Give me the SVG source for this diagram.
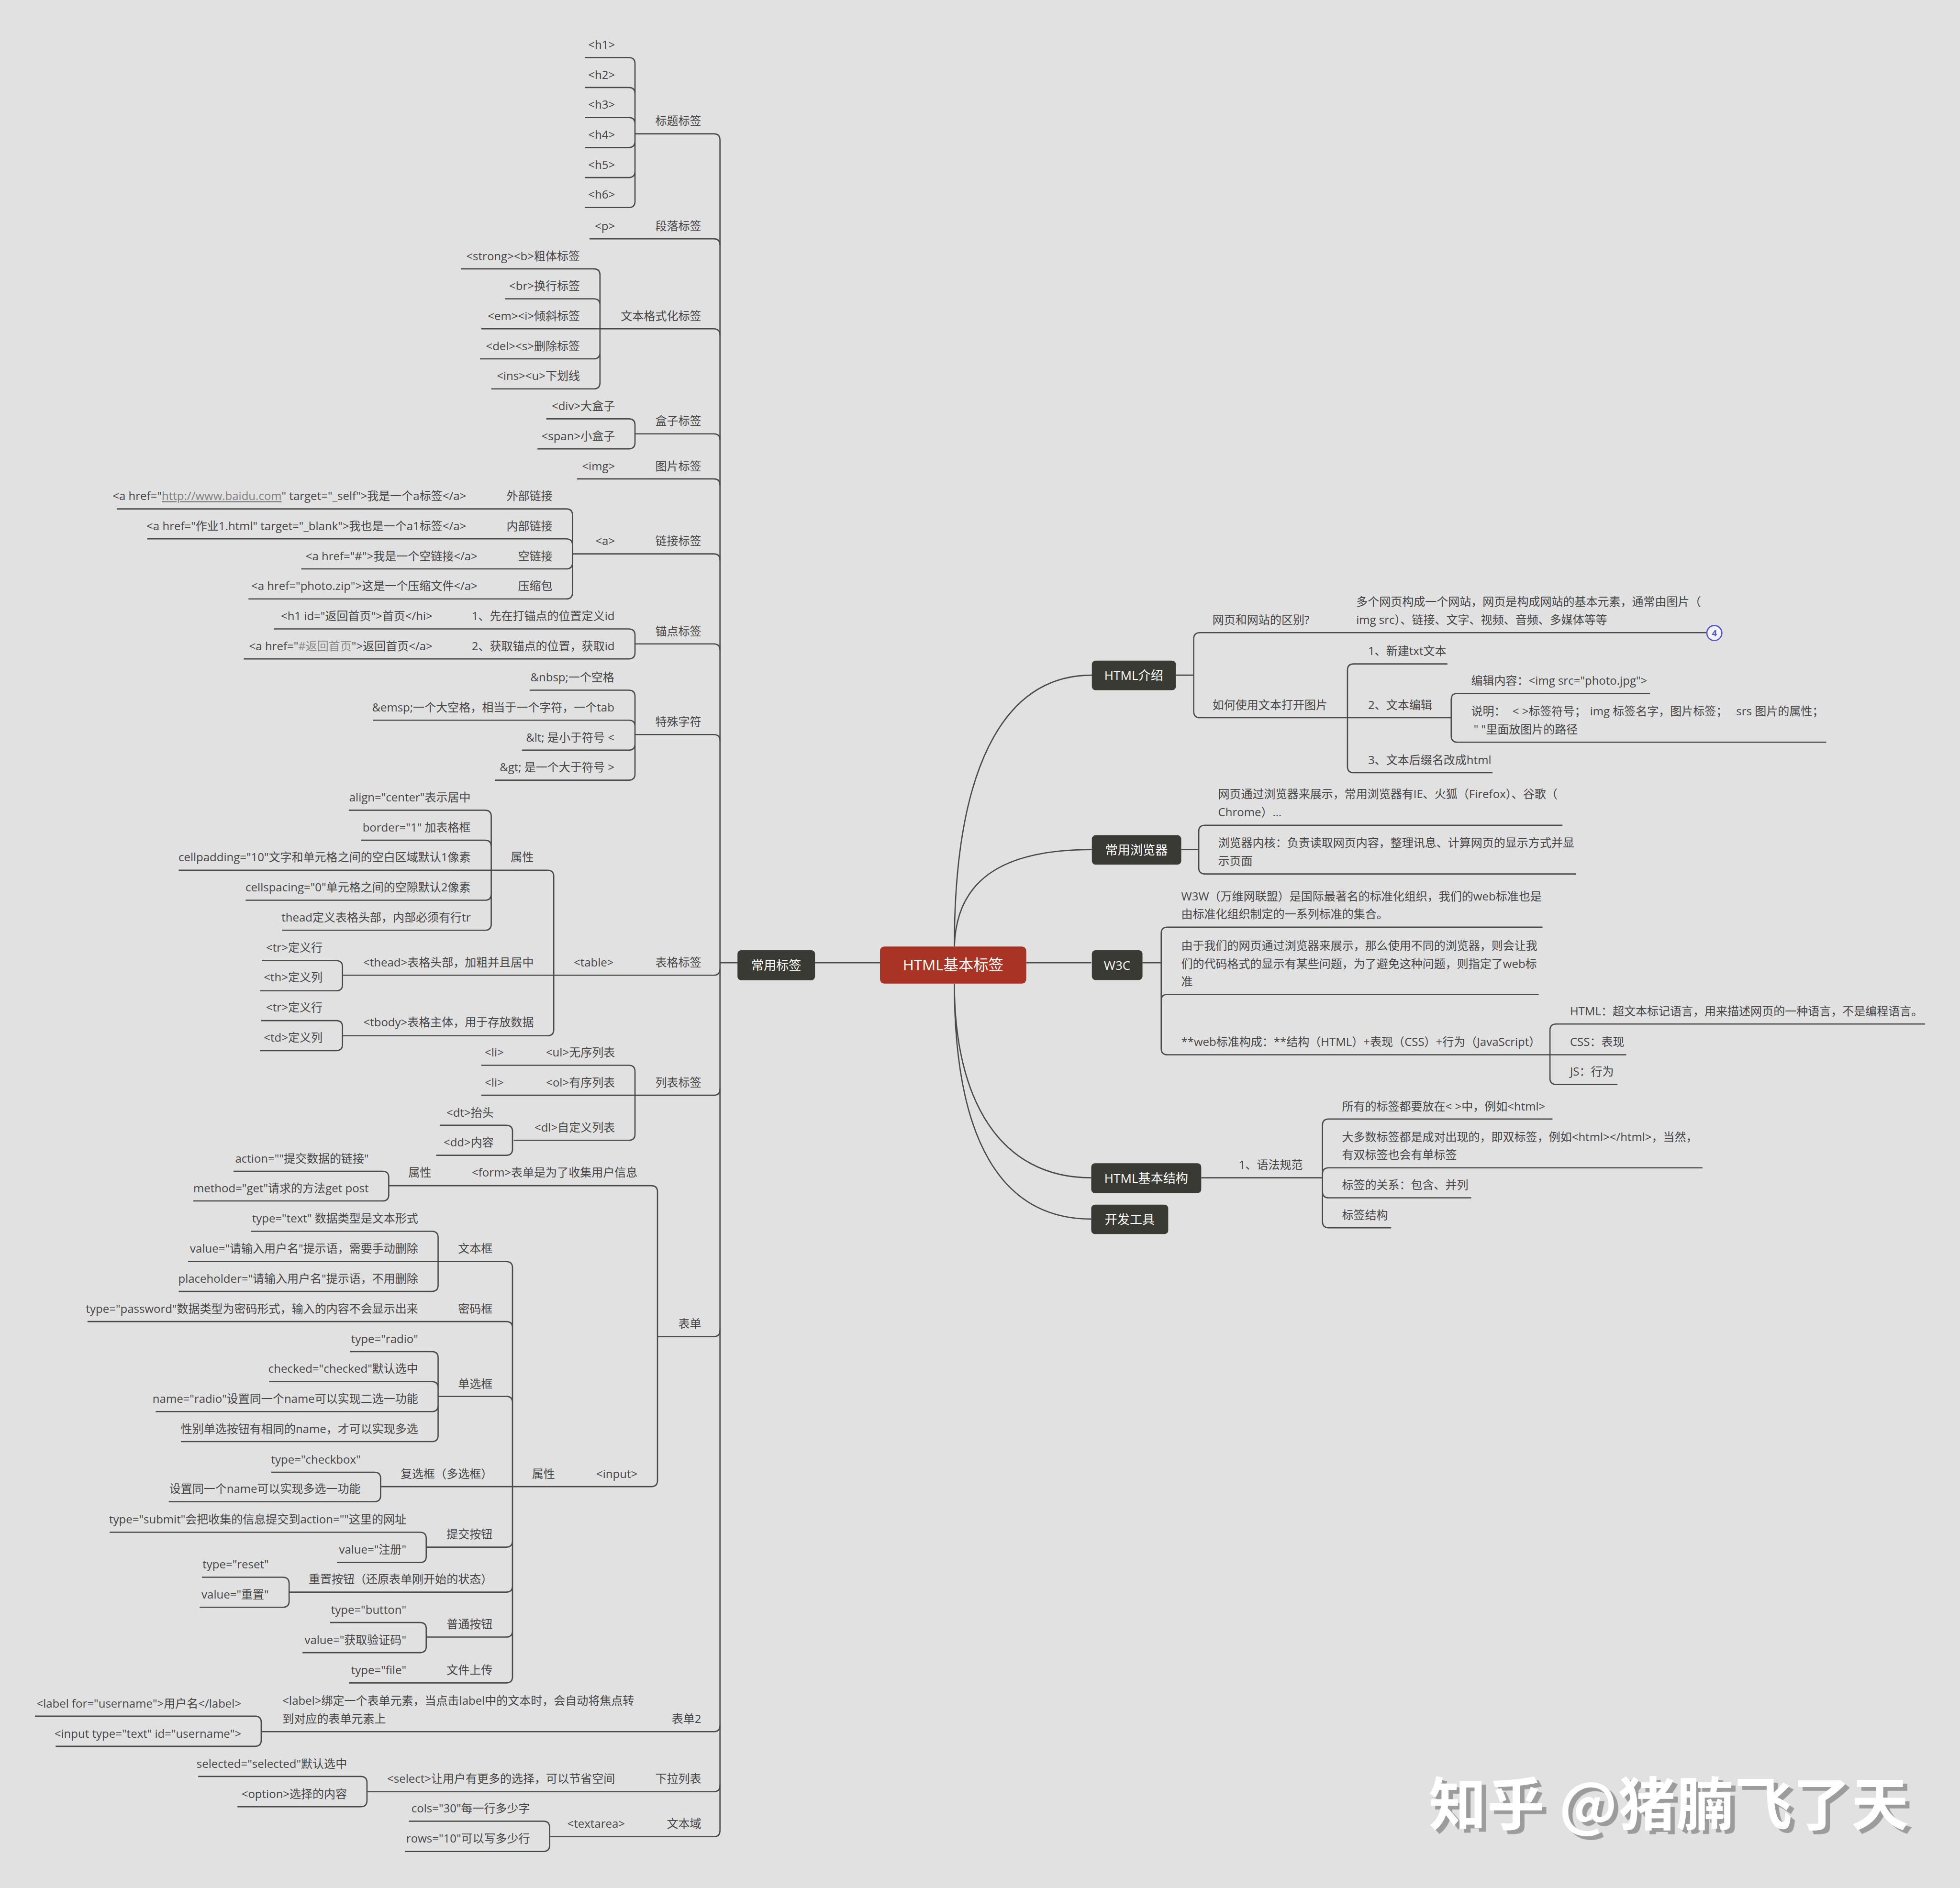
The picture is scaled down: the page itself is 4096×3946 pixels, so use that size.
<svg xmlns="http://www.w3.org/2000/svg" width="4096" height="3946" viewBox="0 0 4096 3946">
<style>
.ln{fill:none;stroke:#4a4a4d;stroke-width:1}
.t{font-family:"Open Sans","Noto Sans CJK SC",sans-serif;font-size:9.2px;fill:#464646}
.e{text-anchor:end}
.lk{fill:#808080;text-decoration:underline}
.lk2{fill:#8a8a8a}
.nb{fill:#3a3a35}
.nt{font-family:"Open Sans","Noto Sans CJK SC",sans-serif;font-size:10px;fill:#ffffff;text-anchor:middle}
.wm{font-family:"Noto Sans CJK SC",sans-serif;font-weight:700;font-size:46px}
</style>
<defs>
<filter id="wmShadow" x="-5%" y="-20%" width="115%" height="150%">
<feDropShadow dx="3.5" dy="3" stdDeviation="0" flood-color="#9c9c9c" flood-opacity="1"/>
</filter>
</defs>
<rect x="0" y="0" width="4096" height="3946" fill="#e1e1e1"/>
<g transform="scale(2.6122,2.6132)">
<g id="connectors">
<path class="ln" d="M576,112 V1464 M576,770 H590 M652,770 H704 M821,770 H873"/>
<path class="ln" d="M508,107 H571 Q576,107 576,112 M471.6,191 H571 Q576,191 576,196 M385,263 H571 Q576,263 576,268 M508,347 H571 Q576,347 576,352 M461.6,383 H571 Q576,383 576,388 M458,443 H571 Q576,443 576,448 M508,515 H571 Q576,515 576,520 M508,587.5 H571 Q576,587.5 576,592.5 M274,780 H571 Q576,780 576,775 M385,876 H571 Q576,876 576,871 M526,1069 H571 Q576,1069 576,1064 M209,1385 H571 Q576,1385 576,1380 M293.6,1433 H571 Q576,1433 576,1428 M439.7,1469 H571 Q576,1469 576,1464"/>
<path class="ln" d="M468,46 H503 Q508,46 508,51 M468,70 H503 Q508,70 508,75 M468,94 H503 Q508,94 508,99 M468,118 H503 Q508,118 508,113 M468,142 H503 Q508,142 508,137 M468,166 H503 Q508,166 508,161 M508,51 V161"/>
<path class="ln" d="M368.7,215 H475 Q480,215 480,220 M404,239 H475 Q480,239 480,244 M384,287 H475 Q480,287 480,282 M393,311 H475 Q480,311 480,306 M480,220 V306"/>
<path class="ln" d="M437,335 H503 Q508,335 508,340 M430,359 H503 Q508,359 508,354 M508,340 V354"/>
<path class="ln" d="M93.5,407 H453 Q458,407 458,412 M117.8,431 H453 Q458,431 458,436 M241,455 H453 Q458,455 458,450 M198.8,479 H453 Q458,479 458,474 M458,412 V474"/>
<path class="ln" d="M219,503 H503 Q508,503 508,508 M195,527 H503 Q508,527 508,522 M508,508 V522"/>
<path class="ln" d="M423.7,552 H503 Q508,552 508,557 M298.4,576 H503 Q508,576 508,581 M417.5,600 H503 Q508,600 508,595 M396,624 H503 Q508,624 508,619 M508,557 V619"/>
<path class="ln" d="M143,696 H438 Q443,696 443,701 M274,828.4 H438 Q443,828.4 443,823.4 M443,701 V823.4"/>
<path class="ln" d="M279,648 H388 Q393,648 393,653 M289,672 H388 Q393,672 393,677 M196.5,720 H388 Q393,720 393,715 M225.8,744 H388 Q393,744 393,739 M393,653 V739"/>
<path class="ln" d="M209.4,768.3 H269 Q274,768.3 274,773.3 M208,792.4 H269 Q274,792.4 274,787.4 M274,773.3 V787.4 M208.9,816.3 H269 Q274,816.3 274,821.3 M208,840.3 H269 Q274,840.3 274,835.3 M274,821.3 V835.3"/>
<path class="ln" d="M385,852 H503 Q508,852 508,857 M411,912 H503 Q508,912 508,907 M508,857 V907 M352,900 H405 Q410,900 410,905 M349,924 H405 Q410,924 410,919 M410,905 V919"/>
<path class="ln" d="M311,948.3 H521 Q526,948.3 526,953.3 M304.5,1189 H521 Q526,1189 526,1184 M526,953.3 V1184 M186.8,936.8 H306 Q311,936.8 311,941.8 M154.7,960.5 H306 Q311,960.5 311,955.5 M311,941.8 V955.5"/>
<path class="ln" d="M150.4,1009 H405 Q410,1009 410,1014 M70,1057 H405 Q410,1057 410,1062 M350.5,1116.8 H405 Q410,1116.8 410,1121.8 M341,1237.4 H405 Q410,1237.4 410,1232.4 M231.3,1273.4 H405 Q410,1273.4 410,1268.4 M341,1309.3 H405 Q410,1309.3 410,1304.3 M279.2,1346 H405 Q410,1346 410,1341 M410,1014 V1341"/>
<path class="ln" d="M200.8,984.8 H345.5 Q350.5,984.8 350.5,989.8 M143,1032.9 H345.5 Q350.5,1032.9 350.5,1027.9 M350.5,989.8 V1027.9"/>
<path class="ln" d="M280,1081 H345.5 Q350.5,1081 350.5,1086 M215.3,1105 H345.5 Q350.5,1105 350.5,1110 M124.5,1129 H345.5 Q350.5,1129 350.5,1124 M144.7,1153 H345.5 Q350.5,1153 350.5,1148 M350.5,1086 V1148"/>
<path class="ln" d="M217,1177.5 H299.5 Q304.5,1177.5 304.5,1182.5 M135,1201 H299.5 Q304.5,1201 304.5,1196 M304.5,1182.5 V1196"/>
<path class="ln" d="M87.7,1225.5 H336 Q341,1225.5 341,1230.5 M269.5,1249.7 H336 Q341,1249.7 341,1244.7 M341,1230.5 V1244.7 M161.5,1261.5 H226.3 Q231.3,1261.5 231.3,1266.5 M159.7,1285.5 H226.3 Q231.3,1285.5 231.3,1280.5 M231.3,1266.5 V1280.5 M264,1297.7 H336 Q341,1297.7 341,1302.7 M242,1321.8 H336 Q341,1321.8 341,1316.8 M341,1302.7 V1316.8"/>
<path class="ln" d="M28,1372.6 H204 Q209,1372.6 209,1377.6 M44.5,1396.7 H204 Q209,1396.7 209,1391.7 M209,1377.6 V1391.7 M158.6,1420.8 H288.6 Q293.6,1420.8 293.6,1425.8 M190,1445 H288.6 Q293.6,1445 293.6,1440 M293.6,1425.8 V1440 M327,1456.6 H434.7 Q439.7,1456.6 439.7,1461.6 M324.2,1480.8 H434.7 Q439.7,1480.8 439.7,1475.8 M439.7,1461.6 V1475.8"/>
<path class="ln" d="M763.5,757 C763.5,620 800,540 873.5,540 M763.5,757 C765,705 800,679.5 873.5,679.5 M763.5,786.7 C763.5,880 800,942 873,942 M763.5,786.7 C763.5,910 800,975 873,975"/>
<path class="ln" d="M940.7,540 H955 M955,511 V569 M955,511 Q955,506 960,506 H1365.5 M955,569 Q955,574 960,574 H1161 M1078,536 V613 M1078,536 Q1078,531 1083,531 H1158 M1078,613 Q1078,618 1083,618 H1194 M1161,559.6 V588.6 M1161,559.6 Q1161,554.6 1166,554.6 H1320 M1161,588.6 Q1161,593.6 1166,593.6 H1461"/>
<path class="ln" d="M945,679.5 H959 M959,665 V694 M959,665 Q959,660 964,660 H1250 M959,694 Q959,699 964,699 H1261"/>
<path class="ln" d="M914,770 H929 M929,746.5 V838.6 M929,746.5 Q929,741.5 934,741.5 H1234 M929,800.3 Q929,795.3 934,795.3 H1231 M929,838.6 Q929,843.6 934,843.6 H1301 M1240,824 V862.4 M1240,824 Q1240,819 1245,819 H1540 M1240,862.4 Q1240,867.4 1245,867.4 H1294"/>
<path class="ln" d="M961,942 H1058 M1058,900 V977 M1058,900 Q1058,895 1063,895 H1242 M1058,939 Q1058,934 1063,934 H1362 M1058,953 Q1058,958 1063,958 H1177 M1058,977 Q1058,982 1063,982 H1113"/>
</g>
<g id="root"><rect x="704" y="757" width="117" height="29.7" rx="3.5" fill="#a93426"/><text class="nt" x="762.5" y="776.2" style="font-size:12px">HTML基本标签</text></g>
<g id="b-common"><rect class="nb" x="590" y="760" width="62" height="24" rx="3"/><text class="nt" x="621" y="775.6">常用标签</text></g>
<g id="b-intro"><rect class="nb" x="873.5" y="528.4" width="67.2" height="23.6" rx="3"/><text class="nt" x="907" y="543.8">HTML介绍</text></g>
<g id="b-browser"><rect class="nb" x="873.5" y="668" width="71.5" height="23.5" rx="3"/><text class="nt" x="909.2" y="683.3">常用浏览器</text></g>
<g id="b-w3c"><rect class="nb" x="873.5" y="760" width="40.5" height="23.8" rx="3"/><text class="nt" x="893.7" y="775.5">W3C</text></g>
<g id="b-struct"><rect class="nb" x="873" y="930.4" width="88" height="23.9" rx="3"/><text class="nt" x="917" y="946">HTML基本结构</text></g>
<g id="b-tools"><rect class="nb" x="873" y="963.5" width="61.6" height="23.5" rx="3"/><text class="nt" x="903.8" y="978.8">开发工具</text></g>
<g id="badge"><circle cx="1371.5" cy="506.3" r="6" fill="#f2f2fa" stroke="#5656cf" stroke-width="1"/><text x="1371.5" y="508.8" style="font-family:'Open Sans',sans-serif;font-size:7px;font-weight:700;fill:#5656cf;text-anchor:middle">4</text></g>
<g id="l1">
<g id="t-title"><text class="t e" x="561" y="100">标题标签</text></g>
<g id="t-para"><text class="t e" x="561" y="184">段落标签</text></g>
<g id="t-fmt"><text class="t e" x="561" y="256">文本格式化标签</text></g>
<g id="t-box"><text class="t e" x="561" y="340">盒子标签</text></g>
<g id="t-imgtag"><text class="t e" x="561" y="376">图片标签</text></g>
<g id="t-link"><text class="t e" x="561" y="436">链接标签</text></g>
<g id="t-anchor"><text class="t e" x="561" y="508">锚点标签</text></g>
<g id="t-special"><text class="t e" x="561" y="580.5">特殊字符</text></g>
<g id="t-table"><text class="t e" x="561" y="773">表格标签</text></g>
<g id="t-list"><text class="t e" x="561" y="869">列表标签</text></g>
<g id="t-form"><text class="t e" x="561" y="1062">表单</text></g>
<g id="t-form2"><text class="t e" x="561" y="1378">表单2</text></g>
<g id="t-select"><text class="t e" x="561" y="1426">下拉列表</text></g>
<g id="t-textarea"><text class="t e" x="561" y="1462">文本域</text></g>
</g>
<g id="l2">
<g id="h1"><text class="t e" x="492" y="39">&lt;h1&gt;</text></g>
<g id="h2"><text class="t e" x="492" y="63">&lt;h2&gt;</text></g>
<g id="h3"><text class="t e" x="492" y="87">&lt;h3&gt;</text></g>
<g id="h4"><text class="t e" x="492" y="111">&lt;h4&gt;</text></g>
<g id="h5"><text class="t e" x="492" y="135">&lt;h5&gt;</text></g>
<g id="h6"><text class="t e" x="492" y="159">&lt;h6&gt;</text></g>
<g id="p"><text class="t e" x="492" y="184">&lt;p&gt;</text></g>
<g id="f1"><text class="t e" x="464" y="208">&lt;strong&gt;&lt;b&gt;粗体标签</text></g>
<g id="f2"><text class="t e" x="464" y="232">&lt;br&gt;换行标签</text></g>
<g id="f3"><text class="t e" x="464" y="256">&lt;em&gt;&lt;i&gt;倾斜标签</text></g>
<g id="f4"><text class="t e" x="464" y="280">&lt;del&gt;&lt;s&gt;删除标签</text></g>
<g id="f5"><text class="t e" x="464" y="304">&lt;ins&gt;&lt;u&gt;下划线</text></g>
<g id="div"><text class="t e" x="492" y="328">&lt;div&gt;大盒子</text></g>
<g id="span"><text class="t e" x="492" y="352">&lt;span&gt;小盒子</text></g>
<g id="img"><text class="t e" x="492" y="376">&lt;img&gt;</text></g>
<g id="a"><text class="t e" x="492" y="436">&lt;a&gt;</text></g>
<g id="a1"><text class="t e" x="442" y="400">外部链接</text></g>
<g id="a2"><text class="t e" x="442" y="424">内部链接</text></g>
<g id="a3"><text class="t e" x="442" y="448">空链接</text></g>
<g id="a4"><text class="t e" x="442" y="472">压缩包</text></g>
<g id="a1c"><text class="t e" x="373" y="400">&lt;a href="<tspan class="lk">http://www.baidu.com</tspan>" target="_self"&gt;我是一个a标签&lt;/a&gt;</text></g>
<g id="a2c"><text class="t e" x="373" y="424">&lt;a href="作业1.html" target="_blank"&gt;我也是一个a1标签&lt;/a&gt;</text></g>
<g id="a3c"><text class="t e" x="382" y="448">&lt;a href="#"&gt;我是一个空链接&lt;/a&gt;</text></g>
<g id="a4c"><text class="t e" x="382" y="472">&lt;a href="photo.zip"&gt;这是一个压缩文件&lt;/a&gt;</text></g>
<g id="m1"><text class="t e" x="491.7" y="496">1、先在打锚点的位置定义id</text></g>
<g id="m2"><text class="t e" x="491.7" y="520">2、获取锚点的位置，获取id</text></g>
<g id="m1c"><text class="t e" x="346" y="496">&lt;h1 id="返回首页"&gt;首页&lt;/hi&gt;</text></g>
<g id="m2c"><text class="t e" x="346" y="520">&lt;a href="<tspan class="lk2">#返回首页</tspan>"&gt;返回首页&lt;/a&gt;</text></g>
<g id="s1"><text class="t e" x="491.5" y="545">&amp;nbsp;一个空格</text></g>
<g id="s2"><text class="t e" x="491.5" y="569">&amp;emsp;一个大空格，相当于一个字符，一个tab</text></g>
<g id="s3"><text class="t e" x="491.5" y="593">&amp;lt; 是小于符号 &lt;</text></g>
<g id="s4"><text class="t e" x="491.5" y="617">&amp;gt; 是一个大于符号 &gt;</text></g>
<g id="tb"><text class="t e" x="491" y="773">&lt;table&gt;</text></g>
<g id="tb-attr"><text class="t e" x="427" y="689">属性</text></g>
<g id="tb-thead"><text class="t e" x="427" y="773">&lt;thead&gt;表格头部，加粗并且居中</text></g>
<g id="tb-tbody"><text class="t e" x="427" y="821">&lt;tbody&gt;表格主体，用于存放数据</text></g>
<g id="ta1"><text class="t e" x="376.5" y="641">align="center"表示居中</text></g>
<g id="ta2"><text class="t e" x="376.5" y="665">border="1" 加表格框</text></g>
<g id="ta3"><text class="t e" x="376.5" y="689">cellpadding="10"文字和单元格之间的空白区域默认1像素</text></g>
<g id="ta4"><text class="t e" x="376.5" y="713">cellspacing="0"单元格之间的空隙默认2像素</text></g>
<g id="ta5"><text class="t e" x="376.5" y="737">thead定义表格头部，内部必须有行tr</text></g>
<g id="th1"><text class="t e" x="258" y="761">&lt;tr&gt;定义行</text></g>
<g id="th2"><text class="t e" x="258" y="785">&lt;th&gt;定义列</text></g>
<g id="tbd1"><text class="t e" x="258" y="809">&lt;tr&gt;定义行</text></g>
<g id="tbd2"><text class="t e" x="258" y="833">&lt;td&gt;定义列</text></g>
<g id="ul"><text class="t e" x="492" y="845">&lt;ul&gt;无序列表</text></g>
<g id="ol"><text class="t e" x="492" y="869">&lt;ol&gt;有序列表</text></g>
<g id="dl"><text class="t e" x="492" y="905">&lt;dl&gt;自定义列表</text></g>
<g id="li1"><text class="t e" x="403" y="845">&lt;li&gt;</text></g>
<g id="li2"><text class="t e" x="403" y="869">&lt;li&gt;</text></g>
<g id="dt"><text class="t e" x="395" y="893">&lt;dt&gt;抬头</text></g>
<g id="dd"><text class="t e" x="395" y="917">&lt;dd&gt;内容</text></g>
<g id="form"><text class="t e" x="510" y="941">&lt;form&gt;表单是为了收集用户信息</text></g>
<g id="form-attr"><text class="t e" x="345" y="941">属性</text></g>
<g id="fa1"><text class="t e" x="295" y="930">action=""提交数据的链接"</text></g>
<g id="fa2"><text class="t e" x="295" y="953.5">method="get"请求的方法get post</text></g>
<g id="input"><text class="t e" x="510" y="1182">&lt;input&gt;</text></g>
<g id="in-attr"><text class="t e" x="444" y="1182">属性</text></g>
<g id="i1"><text class="t e" x="394" y="1002">文本框</text></g>
<g id="i2"><text class="t e" x="394" y="1050">密码框</text></g>
<g id="i3"><text class="t e" x="394" y="1110">单选框</text></g>
<g id="i4"><text class="t e" x="394" y="1182">复选框（多选框）</text></g>
<g id="i5"><text class="t e" x="394" y="1230.4">提交按钮</text></g>
<g id="i6"><text class="t e" x="394" y="1266.4">重置按钮（还原表单刚开始的状态）</text></g>
<g id="i7"><text class="t e" x="394" y="1302.3">普通按钮</text></g>
<g id="i8"><text class="t e" x="394" y="1339">文件上传</text></g>
<g id="i1a"><text class="t e" x="334.5" y="977.8">type="text" 数据类型是文本形式</text></g>
<g id="i1b"><text class="t e" x="334.5" y="1002">value="请输入用户名"提示语，需要手动删除</text></g>
<g id="i1c"><text class="t e" x="334.5" y="1026">placeholder="请输入用户名"提示语，不用删除</text></g>
<g id="i2a"><text class="t e" x="334.5" y="1050">type="password"数据类型为密码形式，输入的内容不会显示出来</text></g>
<g id="i3a"><text class="t e" x="334.5" y="1074">type="radio"</text></g>
<g id="i3b"><text class="t e" x="334.5" y="1098">checked="checked"默认选中</text></g>
<g id="i3c"><text class="t e" x="334.5" y="1122">name="radio"设置同一个name可以实现二选一功能</text></g>
<g id="i3d"><text class="t e" x="334.5" y="1146">性别单选按钮有相同的name，才可以实现多选</text></g>
<g id="i4a"><text class="t e" x="288.5" y="1170.5">type="checkbox"</text></g>
<g id="i4b"><text class="t e" x="288.5" y="1194">设置同一个name可以实现多选一功能</text></g>
<g id="i5a"><text class="t e" x="325" y="1218.5">type="submit"会把收集的信息提交到action=""这里的网址</text></g>
<g id="i5b"><text class="t e" x="325" y="1242.7">value="注册"</text></g>
<g id="i6a"><text class="t e" x="215" y="1254.5">type="reset"</text></g>
<g id="i6b"><text class="t e" x="215" y="1278.5">value="重置"</text></g>
<g id="i7a"><text class="t e" x="325" y="1290.7">type="button"</text></g>
<g id="i7b"><text class="t e" x="325" y="1314.8">value="获取验证码"</text></g>
<g id="i8a"><text class="t e" x="325" y="1339">type="file"</text></g>
<g id="label"><text class="t" x="226" y="1363.5">&lt;label&gt;绑定一个表单元素，当点击label中的文本时，会自动将焦点转</text><text class="t" x="226" y="1378">到对应的表单元素上</text></g>
<g id="lb1"><text class="t e" x="193" y="1365.6">&lt;label for="username"&gt;用户名&lt;/label&gt;</text></g>
<g id="lb2"><text class="t e" x="193" y="1389.7">&lt;input type="text" id="username"&gt;</text></g>
<g id="sel"><text class="t e" x="492" y="1426">&lt;select&gt;让用户有更多的选择，可以节省空间</text></g>
<g id="sel1"><text class="t e" x="277.6" y="1413.8">selected="selected"默认选中</text></g>
<g id="sel2"><text class="t e" x="277.6" y="1438">&lt;option&gt;选择的内容</text></g>
<g id="ta"><text class="t e" x="500" y="1462">&lt;textarea&gt;</text></g>
<g id="ta-c1"><text class="t e" x="424" y="1449.6">cols="30"每一行多少字</text></g>
<g id="ta-c2"><text class="t e" x="424" y="1473.8">rows="10"可以写多少行</text></g>
</g>
<g id="right">
<g id="r1"><text class="t" x="970" y="499">网页和网站的区别?</text></g>
<g id="r1a"><text class="t" x="1085" y="484.4">多个网页构成一个网站，网页是构成网站的基本元素，通常由图片（</text><text class="t" x="1085" y="499">img src）、链接、文字、视频、音频、多媒体等等</text></g>
<g id="r2"><text class="t" x="970" y="567">如何使用文本打开图片</text></g>
<g id="r2a"><text class="t" x="1094.5" y="524">1、新建txt文本</text></g>
<g id="r2b"><text class="t" x="1094.5" y="567">2、文本编辑</text></g>
<g id="r2c"><text class="t" x="1094.5" y="611">3、文本后缀名改成html</text></g>
<g id="r2b1"><text class="t" x="1177" y="547.6">编辑内容：&lt;img src="photo.jpg"&gt;</text></g>
<g id="r2b2"><text class="t" y="572"><tspan x="1177">说明：</tspan><tspan x="1210">&lt; &gt;标签符号；</tspan><tspan x="1272">img 标签名字，图片标签；</tspan><tspan x="1389">srs 图片的属性；</tspan></text><text class="t" x="1179" y="586.6">" "里面放图片的路径</text></g>
<g id="r3a"><text class="t" x="974.5" y="638.4">网页通过浏览器来展示，常用浏览器有IE、火狐（Firefox）、谷歌（</text><text class="t" x="974.5" y="653">Chrome）…</text></g>
<g id="r3b"><text class="t" x="974.5" y="677.4">浏览器内核：负责读取网页内容，整理讯息、计算网页的显示方式并显</text><text class="t" x="974.5" y="692">示页面</text></g>
<g id="r4a"><text class="t" x="945" y="720">W3W（万维网联盟）是国际最著名的标准化组织，我们的web标准也是</text><text class="t" x="945" y="734.5">由标准化组织制定的一系列标准的集合。</text></g>
<g id="r4b"><text class="t" x="945" y="759.5">由于我们的网页通过浏览器来展示，那么使用不同的浏览器，则会让我</text><text class="t" x="945" y="774">们的代码格式的显示有某些问题，为了避免这种问题，则指定了web标</text><text class="t" x="945" y="788.3">准</text></g>
<g id="r4c"><text class="t" x="945" y="836.6">**web标准构成：**结构（HTML）+表现（CSS）+行为（JavaScript）</text></g>
<g id="r4c1"><text class="t" x="1256" y="812">HTML：超文本标记语言，用来描述网页的一种语言，不是编程语言。</text></g>
<g id="r4c2"><text class="t" x="1256" y="836.6">CSS：表现</text></g>
<g id="r4c3"><text class="t" x="1256" y="860.4">JS：行为</text></g>
<g id="r5"><text class="t" x="991" y="935">1、语法规范</text></g>
<g id="r5a"><text class="t" x="1073.6" y="888">所有的标签都要放在&lt; &gt;中，例如&lt;html&gt;</text></g>
<g id="r5b"><text class="t" x="1073.6" y="912.6">大多数标签都是成对出现的，即双标签，例如&lt;html&gt;&lt;/html&gt;，当然，</text><text class="t" x="1073.6" y="927">有双标签也会有单标签</text></g>
<g id="r5c"><text class="t" x="1073.6" y="951">标签的关系：包含、并列</text></g>
<g id="r5d"><text class="t" x="1073.6" y="975">标签结构</text></g>
</g>
<g id="watermark">
<text class="wm" x="1143" y="1460" textLength="384" lengthAdjust="spacing" fill="#ffffff" filter="url(#wmShadow)">知乎 @猪腩飞了天</text>
</g>
</g>
</svg>
